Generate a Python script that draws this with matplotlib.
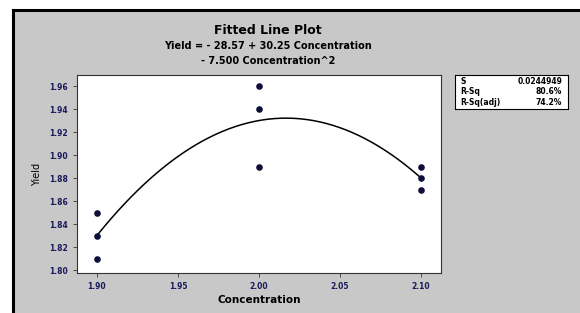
import matplotlib.pyplot as plt
import numpy as np
from matplotlib.patches import Rectangle

# observed data
conc = [1.90, 1.90, 1.90, 2.00, 2.00, 2.00, 2.10, 2.10, 2.10]
yield_obs = [1.85, 1.83, 1.81, 1.96, 1.94, 1.89, 1.89, 1.88, 1.87]

# fitted quadratic: b0 + b1*x + b2*x^2
coef = [-28.57, 30.25, -7.500]
stats_names = ['S', 'R-Sq', 'R-Sq(adj)']
stats_vals = ['0.0244949', '80.6%', '74.2%']

xticks = [1.90, 1.95, 2.00, 2.05, 2.10]
yticks = [1.80, 1.82, 1.84, 1.86, 1.88, 1.90, 1.92, 1.94, 1.96]

W, H = 580, 313
fig = plt.figure(figsize=(W / 100, H / 100), dpi=100)
fig.patch.set_facecolor('white')

# gray panel with black left/top border
fig.add_artist(Rectangle((13 / W, 0), 1 - 13 / W, 1 - 10 / H, transform=fig.transFigure,
                         facecolor='#c8c8c8', edgecolor='none', zorder=-10))
fig.add_artist(plt.Line2D([13 / W, 13 / W], [0, 1 - 10 / H], color='black', lw=2.2,
                          transform=fig.transFigure))
fig.add_artist(plt.Line2D([13 / W, 1], [1 - 10 / H, 1 - 10 / H], color='black', lw=2.2,
                          transform=fig.transFigure))

ax = fig.add_axes([77 / W, 1 - 273 / H, (441 - 77) / W, (273 - 75) / H])
ax.set_facecolor('white')

xs = np.linspace(min(conc), max(conc), 200)
ax.plot(xs, coef[0] + coef[1] * xs + coef[2] * xs ** 2, color='black', lw=1.1)
ax.scatter(conc, yield_obs, s=14, color='#0d0d3a', zorder=3)

ax.set_xlim(1.8877, 2.1123)
ax.set_ylim(1.7974, 1.9696)
ax.set_xticks(xticks)
ax.set_xticklabels([f'{v:.2f}' for v in xticks])
ax.set_yticks(yticks)
ax.set_yticklabels([f'{v:.2f}' for v in yticks])
ax.tick_params(labelsize=5.5, length=3, width=0.6, colors='#333333', labelcolor='#1a1a5a')
for lab in ax.get_xticklabels() + ax.get_yticklabels():
    lab.set_fontweight('bold')
for sp in ax.spines.values():
    sp.set_linewidth(0.8)
    sp.set_color('#333333')

ax.set_xlabel('Concentration', fontsize=7.5, fontweight='bold', labelpad=3)
ax.set_ylabel('Yield', fontsize=7, labelpad=5)

fig.text(268 / W, 1 - 30 / H, 'Fitted Line Plot', ha='center', va='center',
         fontsize=9, fontweight='bold')
fig.text(268 / W, 1 - 46 / H, 'Yield = - 28.57 + 30.25 Concentration', ha='center',
         va='center', fontsize=7, fontweight='bold')
fig.text(268 / W, 1 - 61 / H, '- 7.500 Concentration^2', ha='center', va='center',
         fontsize=7, fontweight='bold')

# stats box
bx = fig.add_axes([455 / W, 1 - 109 / H, (568 - 455) / W, (109 - 75) / H])
bx.set_facecolor('white')
bx.set_xticks([])
bx.set_yticks([])
for sp in bx.spines.values():
    sp.set_linewidth(0.8)
for i, (n, v) in enumerate(zip(stats_names, stats_vals)):
    yy = 0.8 - i * 0.3
    bx.text(0.05, yy, n, ha='left', va='center', fontsize=5.5, fontweight='bold',
            transform=bx.transAxes)
    bx.text(0.95, yy, v, ha='right', va='center', fontsize=5.5, fontweight='bold',
            transform=bx.transAxes)

fig.savefig('out.png', dpi=100)
